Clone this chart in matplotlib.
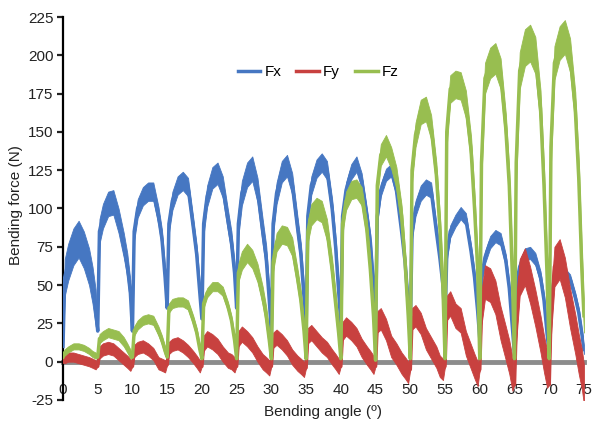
import numpy as np
import matplotlib
matplotlib.use('Agg')
import matplotlib.pyplot as plt

# Force readings sampled at these phases within each 5 degree bending cycle
phases = [0.0, 0.25, 0.75, 1.5, 2.25, 3.0, 3.75, 4.25, 4.7]
n_cycles = 15
angle = [5 * c + p for c in range(n_cycles) for p in phases] + [75.0]

fx = [
    10, 55, 65, 75, 80, 73, 62, 50, 35,
    20, 85, 95, 103, 104, 92, 76, 63, 45,
    20, 85, 100, 108, 111, 111, 95, 80, 55,
    35, 90, 105, 115, 118, 114, 88, 70, 45,
    28, 90, 108, 120, 123, 114, 92, 78, 58,
    35, 90, 110, 122, 126, 112, 85, 68, 40,
    19, 90, 110, 124, 128, 116, 88, 70, 42,
    21, 95, 115, 126, 130, 125, 100, 75, 45,
    25, 95, 112, 124, 129, 118, 95, 78, 50,
    25, 95, 112, 122, 125, 112, 85, 65, 38,
    20, 85, 100, 110, 114, 112, 85, 68, 50,
    25, 70, 85, 92, 97, 93, 72, 55, 33,
    15, 55, 68, 78, 82, 80, 66, 48, 22,
    5, 50, 62, 70, 71, 67, 55, 40, 18,
    5, 40, 55, 60, 58, 54, 42, 32, 18,
    8,
]
fy = [
    0, 2, 3, 3, 2, 1, 0, -1, -2,
    -3, 6, 8, 9, 8, 5, 2, 0, -2,
    -3, 7, 9, 10, 8, 5, -1, -2, -3,
    -2, 9, 11, 12, 10, 7, 3, 0, -3,
    -3, 12, 15, 13, 10, 5, 1, 0, -2,
    -3, 15, 18, 15, 11, 5, 0, -2, -4,
    -3, 14, 16, 13, 9, 3, -1, -3, -5,
    -4, 17, 19, 15, 11, 8, 3, 0, -3,
    -3, 20, 23, 20, 16, 9, 4, 1, -2,
    -3, 26, 28, 21, 10, 5, -1, -4, -7,
    -5, 28, 30, 25, 15, 9, 3, -3, -5,
    -3, 35, 38, 30, 27, 12, 3, -3, -8,
    -5, 35, 52, 50, 42, 25, 12, 3, -8,
    -15, 25, 55, 62, 50, 35, 18, 5, -5,
    -15, 30, 62, 67, 55, 35, 18, 5, -5,
    -15,
]
fz = [
    3, 6, 8, 10, 10, 9, 7, 5, 4,
    3, 15, 17, 19, 18, 17, 13, 9, 5,
    3, 20, 24, 27, 28, 27, 20, 14, 7,
    3, 35, 38, 39, 39, 37, 27, 19, 8,
    2, 38, 45, 49, 49, 46, 36, 27, 14,
    2, 58, 66, 71, 67, 58, 43, 30, 14,
    2, 65, 78, 83, 82, 75, 55, 40, 20,
    2, 85, 96, 100, 98, 86, 60, 38, 18,
    2, 90, 105, 112, 113, 108, 86, 60, 30,
    1, 115, 135, 141, 133, 120, 95, 65, 30,
    2, 125, 148, 163, 165, 153, 122, 88, 48,
    2, 150, 178, 181, 180, 168, 138, 100, 60,
    2, 130, 185, 195, 198, 188, 152, 115, 55,
    2, 130, 190, 205, 208, 200, 165, 115, 55,
    2, 140, 195, 208, 212, 200, 165, 120, 60,
    30,
]

# half height of the noise band in each cycle
fx_noise = [12, 8, 6, 6, 7, 8, 7, 6, 5, 4, 5, 4, 4, 4, 3]
fy_noise = [3, 4, 4, 4, 5, 5, 5, 5, 6, 7, 7, 8, 11, 12, 13]
fz_noise = [2, 3, 3, 3, 3, 6, 6, 7, 6, 7, 8, 9, 10, 12, 11]

series = [('Fx', fx, fx_noise, '#4677c2'),
          ('Fy', fy, fy_noise, '#c8413f'),
          ('Fz', fz, fz_noise, '#98be50')]

plt.rcParams['font.family'] = ['Liberation Sans', 'DejaVu Sans']
plt.rcParams['axes.unicode_minus'] = False

fig = plt.figure(figsize=(5.92, 4.23), dpi=100)
ax = fig.add_axes([0.1064, 0.0544, 0.880, 0.9054])

x = np.array(angle)
for name, values, noise, color in series:
    y = np.array(values, dtype=float)
    spread = np.array([noise[c] if p > 0 else 0 for c in range(n_cycles) for p in phases] + [noise[-1]], dtype=float)
    ax.fill_between(x, y - spread, y + spread, color=color, lw=0.6, zorder=3)
    ax.plot(x, y, color=color, lw=2.5, label=name, zorder=3)

ax.set_xlim(0, 75)
ax.set_ylim(-25, 225)
ax.set_xticks(range(0, 80, 5))
ax.set_yticks(range(-25, 250, 25))

ax.spines['top'].set_visible(False)
ax.spines['right'].set_visible(False)
ax.spines['left'].set_linewidth(1.6)
ax.spines['bottom'].set_position(('data', 0))
ax.spines['bottom'].set_color('#8c8c8c')
ax.spines['bottom'].set_linewidth(3.5)
ax.spines['bottom'].set_zorder(1)

ax.tick_params(axis='y', direction='out', length=4, width=1.6, labelsize=11, colors='#222222', pad=3)
ax.tick_params(axis='x', length=0, labelsize=11, colors='#222222', pad=15)

ax.set_xlabel('Bending angle (º)', fontsize=11, color='#222222')
ax.xaxis.set_label_coords(0.5, -0.031)
ax.xaxis.label.set_va('center')
ax.set_ylabel('Bending force (N)', fontsize=11, color='#222222')
ax.yaxis.set_label_coords(-0.091, 0.51)
ax.yaxis.label.set_va('center')

leg = ax.legend(loc='center', bbox_to_anchor=(0.49, 0.856), ncol=3, frameon=False,
                fontsize=11, handlelength=1.5, handletextpad=0.25, columnspacing=1.0)
for line in leg.get_lines():
    line.set_linewidth(2.5)

fig.savefig('out.png', dpi=100)
